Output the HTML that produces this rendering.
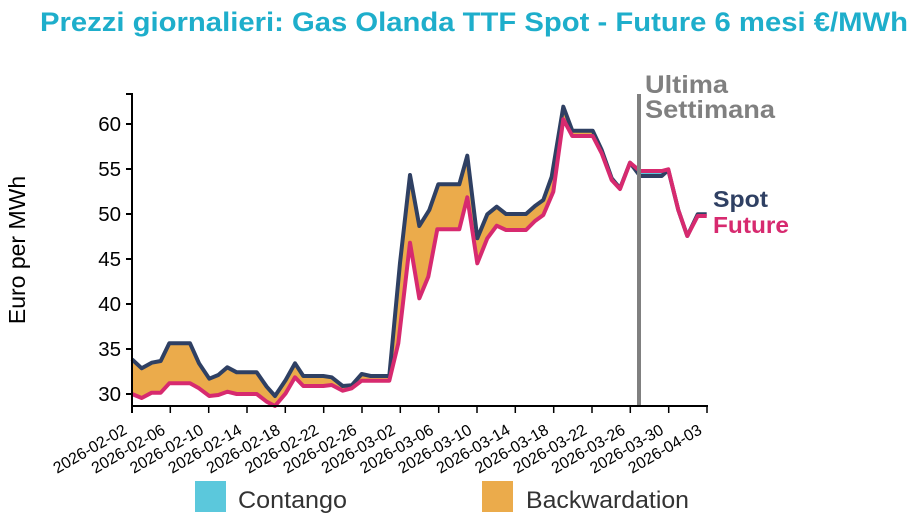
<!DOCTYPE html>
<html><head><meta charset="utf-8"><style>
body{margin:0;background:#fff;}
svg{display:block;font-family:"Liberation Sans",Arial,sans-serif;}
</style></head><body>
<svg width="921" height="530" viewBox="0 0 921 530" xmlns="http://www.w3.org/2000/svg">
<text x="40" y="31" textLength="868" lengthAdjust="spacingAndGlyphs" font-size="27" font-weight="bold" fill="#1eaecb">Prezzi giornalieri: Gas Olanda TTF Spot - Future 6 mesi €/MWh</text>

<polygon fill="#ebab4b" points="132,359.3 141.7,368.3 151.7,362.7 160.7,361 169.3,343.3 190,343.3 199,363.3 209.3,378.7 218.3,375 227.3,367.3 236.7,372.3 256.7,372.3 266.7,386.7 275,396 285.7,380 295,363.3 303.3,376 323.3,376 331.7,377.3 342.7,386 351.7,385.3 361.7,374 370.7,376 389.3,376 400,263 410,175 419.3,226 429.3,210 438.3,184.3 459.3,184.3 467.3,155.7 477.3,238.3 487.3,214.3 496.7,206.7 506,214 526,214 535,206 543.3,200 551.7,176.7 563.3,106.7 572.3,130.7 592.7,130.7 601.7,150 611.7,178.3 620,188.3 630,162.7 640,176 640,171 630,162.7 620,189 611.7,180 601.7,153.3 592.7,136 572.3,136 563.3,119.3 553.3,191.7 543.3,215 535,221 526,230 506,230 496.7,225.7 487.3,238.3 477.3,263.3 467.3,197.3 459.3,229.3 437.3,229.3 428.3,276.7 419.3,298.3 410,242.7 400,336.7 398.3,343.3 389.3,380.7 361.7,380.7 351.7,388.3 342.7,390.7 331.7,385 323.3,386 303.3,386 295,377.3 285.7,393.3 275,406 266.7,401.7 256.7,394 236.7,394 227.3,391.7 218.3,395 209.3,396 199,388.3 190,383.3 169.3,383.3 160.7,392.7 151.7,392.7 141.7,398 132,394"/>
<polygon fill="#5bc8dc" points="635,167 640,176 661.7,176 668.3,170 668.3,169.3 661.7,171 640,171"/>

<polyline fill="none" stroke="#2f4063" stroke-width="4" stroke-linejoin="round" points="132,359.3 141.7,368.3 151.7,362.7 160.7,361 169.3,343.3 190,343.3 199,363.3 209.3,378.7 218.3,375 227.3,367.3 236.7,372.3 256.7,372.3 266.7,386.7 275,396 285.7,380 295,363.3 303.3,376 323.3,376 331.7,377.3 342.7,386 351.7,385.3 361.7,374 370.7,376 389.3,376 400,263 410,175 419.3,226 429.3,210 438.3,184.3 459.3,184.3 467.3,155.7 477.3,238.3 487.3,214.3 496.7,206.7 506,214 526,214 535,206 543.3,200 551.7,176.7 563.3,106.7 572.3,130.7 592.7,130.7 601.7,150 611.7,178.3 620,188.3 630,162.7 640,176 661.7,176 668.3,170 678.3,210 687.3,236 697.7,214.3 706.7,214.3"/>
<polyline fill="none" stroke="#d72a6f" stroke-width="4" stroke-linejoin="round" points="132,394 141.7,398 151.7,392.7 160.7,392.7 169.3,383.3 190,383.3 199,388.3 209.3,396 218.3,395 227.3,391.7 236.7,394 256.7,394 266.7,401.7 275,406 285.7,393.3 295,377.3 303.3,386 323.3,386 331.7,385 342.7,390.7 351.7,388.3 361.7,380.7 389.3,380.7 398.3,343.3 410,242.7 419.3,298.3 428.3,276.7 437.3,229.3 459.3,229.3 467.3,197.3 477.3,263.3 487.3,238.3 496.7,225.7 506,230 526,230 535,221 543.3,215 553.3,191.7 563.3,119.3 572.3,136 592.7,136 601.7,153.3 611.7,180 620,189 630,162.7 640,171 661.7,171 668.3,169.3 678.3,210 687.3,236 697.7,216 706.7,216"/>

<line x1="639" y1="94" x2="639" y2="406" stroke="#808080" stroke-width="4"/>
<text x="645" y="93" font-size="25" textLength="83" lengthAdjust="spacingAndGlyphs" font-weight="bold" fill="#808080">Ultima</text>
<text x="645" y="118" font-size="25" textLength="130" lengthAdjust="spacingAndGlyphs" font-weight="bold" fill="#808080">Settimana</text>
<text x="713" y="207" font-size="23.5" textLength="55" lengthAdjust="spacingAndGlyphs" font-weight="bold" fill="#2f4063">Spot</text>
<text x="713" y="233" font-size="23.5" textLength="76" lengthAdjust="spacingAndGlyphs" font-weight="bold" fill="#d72a6f">Future</text>

<g stroke="#000" stroke-width="2">
<line x1="132" y1="93" x2="132" y2="413"/>
<line x1="131" y1="406" x2="708" y2="406"/>
<line x1="126" y1="394" x2="132" y2="394"/><line x1="126" y1="349" x2="132" y2="349"/><line x1="126" y1="304" x2="132" y2="304"/><line x1="126" y1="259" x2="132" y2="259"/><line x1="126" y1="214" x2="132" y2="214"/><line x1="126" y1="169" x2="132" y2="169"/><line x1="126" y1="124" x2="132" y2="124"/><line x1="126" y1="94" x2="132" y2="94"/>
</g>
<g stroke="#000" stroke-width="1.5">
<line x1="170.3" y1="406" x2="170.3" y2="413"/><line x1="208.7" y1="406" x2="208.7" y2="413"/><line x1="247" y1="406" x2="247" y2="413"/><line x1="285.3" y1="406" x2="285.3" y2="413"/><line x1="323.7" y1="406" x2="323.7" y2="413"/><line x1="362" y1="406" x2="362" y2="413"/><line x1="400.3" y1="406" x2="400.3" y2="413"/><line x1="438.7" y1="406" x2="438.7" y2="413"/><line x1="477" y1="406" x2="477" y2="413"/><line x1="515.3" y1="406" x2="515.3" y2="413"/><line x1="553.7" y1="406" x2="553.7" y2="413"/><line x1="592" y1="406" x2="592" y2="413"/><line x1="630.3" y1="406" x2="630.3" y2="413"/><line x1="668.7" y1="406" x2="668.7" y2="413"/><line x1="707" y1="406" x2="707" y2="413"/>
</g>
<g font-size="20.5" text-anchor="end" fill="#000">
<text x="121" y="401">30</text><text x="121" y="356">35</text><text x="121" y="311">40</text><text x="121" y="266">45</text><text x="121" y="221">50</text><text x="121" y="176">55</text><text x="121" y="131">60</text>
</g>
<text transform="translate(25,250) rotate(-90)" text-anchor="middle" font-size="23" fill="#000">Euro per MWh</text>
<g font-size="16" text-anchor="end" fill="#000">
<text transform="translate(128,433) rotate(-30)">2026-02-02</text>
<text transform="translate(166.3,433) rotate(-30)">2026-02-06</text>
<text transform="translate(204.7,433) rotate(-30)">2026-02-10</text>
<text transform="translate(243,433) rotate(-30)">2026-02-14</text>
<text transform="translate(281.3,433) rotate(-30)">2026-02-18</text>
<text transform="translate(319.7,433) rotate(-30)">2026-02-22</text>
<text transform="translate(358,433) rotate(-30)">2026-02-26</text>
<text transform="translate(396.3,433) rotate(-30)">2026-03-02</text>
<text transform="translate(434.7,433) rotate(-30)">2026-03-06</text>
<text transform="translate(473,433) rotate(-30)">2026-03-10</text>
<text transform="translate(511.3,433) rotate(-30)">2026-03-14</text>
<text transform="translate(549.7,433) rotate(-30)">2026-03-18</text>
<text transform="translate(588,433) rotate(-30)">2026-03-22</text>
<text transform="translate(626.3,433) rotate(-30)">2026-03-26</text>
<text transform="translate(664.7,433) rotate(-30)">2026-03-30</text>
<text transform="translate(703,433) rotate(-30)">2026-04-03</text>
</g>
<rect x="195" y="481" width="31" height="31" fill="#5bc8dc"/>
<text x="238" y="508" font-size="24" textLength="109" lengthAdjust="spacingAndGlyphs" fill="#333">Contango</text>
<rect x="482" y="481" width="31" height="31" fill="#ebab4b"/>
<text x="526" y="508" font-size="24.5" textLength="163" lengthAdjust="spacingAndGlyphs" fill="#333">Backwardation</text>
</svg>
</body></html>
